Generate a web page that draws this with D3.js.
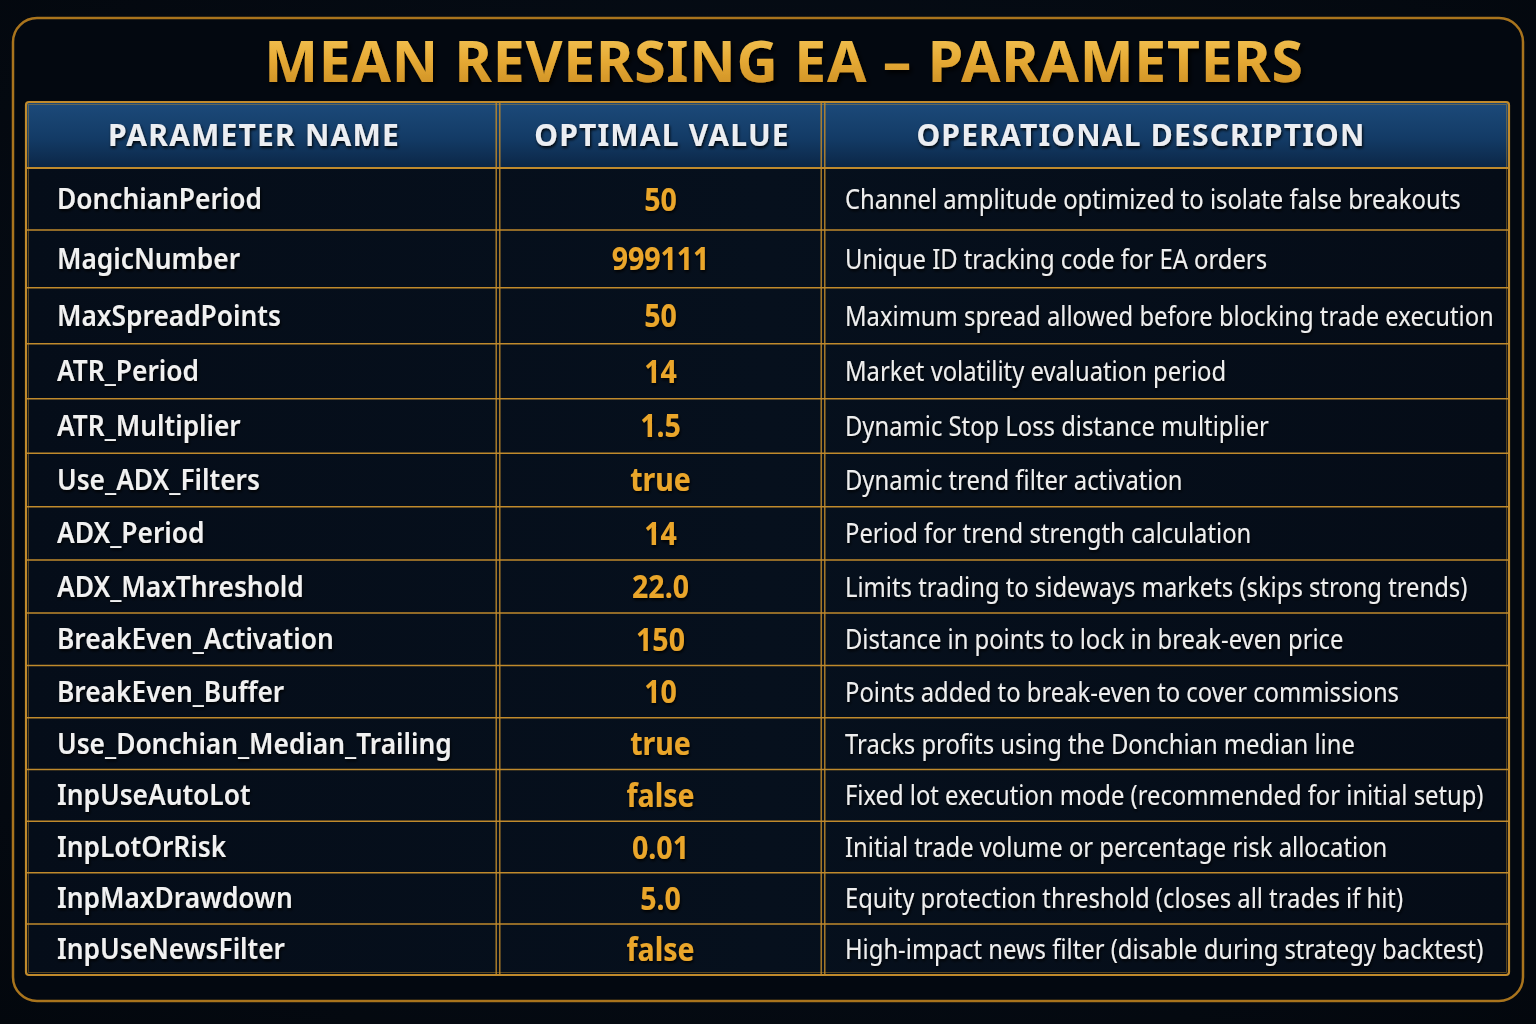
<!DOCTYPE html>
<html><head><meta charset="utf-8">
<script src="https://cdn.jsdelivr.net/npm/d3@7"></script>
<style>html,body{margin:0;padding:0;background:#040911;} svg{display:block}</style>
</head><body><div id="chart"></div>
<script>
// ---- data ----
const title = "MEAN REVERSING EA – PARAMETERS";
const columns = ["PARAMETER NAME", "OPTIMAL VALUE", "OPERATIONAL DESCRIPTION"];
const paramNames = [
  "DonchianPeriod", "MagicNumber", "MaxSpreadPoints", "ATR_Period", "ATR_Multiplier",
  "Use_ADX_Filters", "ADX_Period", "ADX_MaxThreshold", "BreakEven_Activation", "BreakEven_Buffer",
  "Use_Donchian_Median_Trailing", "InpUseAutoLot", "InpLotOrRisk", "InpMaxDrawdown", "InpUseNewsFilter"
];
const optimalValues = [
  "50", "999111", "50", "14", "1.5",
  "true", "14", "22.0", "150", "10",
  "true", "false", "0.01", "5.0", "false"
];
const descriptions = [
  "Channel amplitude optimized to isolate false breakouts",
  "Unique ID tracking code for EA orders",
  "Maximum spread allowed before blocking trade execution",
  "Market volatility evaluation period",
  "Dynamic Stop Loss distance multiplier",
  "Dynamic trend filter activation",
  "Period for trend strength calculation",
  "Limits trading to sideways markets (skips strong trends)",
  "Distance in points to lock in break-even price",
  "Points added to break-even to cover commissions",
  "Tracks profits using the Donchian median line",
  "Fixed lot execution mode (recommended for initial setup)",
  "Initial trade volume or percentage risk allocation",
  "Equity protection threshold (closes all trades if hit)",
  "High-impact news filter (disable during strategy backtest)"
];

const rows = paramNames.map((name, i) => ({name, value: optimalValues[i], desc: descriptions[i]}));

// ---- layout ----
const W = 1536, H = 1024;
const FONT = "'Noto Sans', 'Open Sans', sans-serif";
const gold = "#c08a2c";
const tableLeft = 26, tableRight = 1509, tableTop = 102, headTop = 168, tableBottom = 975;
const colEdges = [tableLeft, 498, 823, tableRight];
const headCenters = [254, 662, 1141];

// rows get a touch shorter further down the table
const y = d3.scalePow().exponent(0.947).domain([0, rows.length]).range([headTop, tableBottom]);

const svg = d3.select("#chart").append("svg")
  .attr("width", W).attr("height", H)
  .attr("viewBox", [0, 0, W, H]);

const defs = svg.append("defs");

const bg = defs.append("radialGradient").attr("id", "bg").attr("cx", "50%").attr("cy", "45%").attr("r", "75%");
bg.append("stop").attr("offset", "0%").attr("stop-color", "#08111d");
bg.append("stop").attr("offset", "100%").attr("stop-color", "#03070d");

const titleGrad = defs.append("linearGradient").attr("id", "titleGrad").attr("x1", 0).attr("x2", 0).attr("y1", 0).attr("y2", 1);
titleGrad.append("stop").attr("offset", "0%").attr("stop-color", "#f9cf62");
titleGrad.append("stop").attr("offset", "50%").attr("stop-color", "#e6aa35");
titleGrad.append("stop").attr("offset", "100%").attr("stop-color", "#c4861e");

const headGrad = defs.append("linearGradient").attr("id", "headGrad").attr("x1", 0).attr("x2", 0).attr("y1", 0).attr("y2", 1);
headGrad.append("stop").attr("offset", "0%").attr("stop-color", "#1c4a7a");
headGrad.append("stop").attr("offset", "55%").attr("stop-color", "#133b66");
headGrad.append("stop").attr("offset", "100%").attr("stop-color", "#0b2646");

const rowGrad = defs.append("linearGradient").attr("id", "rowGrad").attr("x1", 0).attr("x2", 1).attr("y1", 0).attr("y2", 0);
rowGrad.append("stop").attr("offset", "0%").attr("stop-color", "#050d19");
rowGrad.append("stop").attr("offset", "50%").attr("stop-color", "#06101d");
rowGrad.append("stop").attr("offset", "100%").attr("stop-color", "#050c17");

const shadow = defs.append("filter").attr("id", "shadow").attr("x", "-10%").attr("y", "-30%").attr("width", "120%").attr("height", "160%");
shadow.append("feDropShadow").attr("dx", 1).attr("dy", 2).attr("stdDeviation", 1.6)
  .attr("flood-color", "#000").attr("flood-opacity", 0.9);

const glow = defs.append("filter").attr("id", "glow").attr("x", "-5%").attr("y", "-30%").attr("width", "110%").attr("height", "160%");
glow.append("feDropShadow").attr("dx", 2).attr("dy", 3).attr("stdDeviation", 2.5)
  .attr("flood-color", "#000").attr("flood-opacity", 1);

// background + outer panel
svg.append("rect").attr("width", W).attr("height", H).attr("fill", "url(#bg)");
svg.append("rect")
  .attr("x", 13).attr("y", 18).attr("width", 1510).attr("height", 983).attr("rx", 24)
  .attr("fill", "#030810").attr("stroke", "#a9741d").attr("stroke-width", 2.5);

// title
svg.append("text")
  .attr("x", 784).attr("y", 82)
  .attr("text-anchor", "middle")
  .attr("fill", "url(#titleGrad)")
  .attr("filter", "url(#glow)")
  .style("font-family", FONT).style("font-weight", 700).style("font-size", "57px")
  .style("letter-spacing", "0.8px")
  .text(title);

// header band
svg.append("rect")
  .attr("x", tableLeft).attr("y", tableTop).attr("width", tableRight - tableLeft).attr("height", headTop - tableTop)
  .attr("fill", "url(#headGrad)");

// body rows
svg.append("g").selectAll("rect").data(rows).join("rect")
  .attr("x", tableLeft).attr("width", tableRight - tableLeft)
  .attr("y", (d, i) => y(i)).attr("height", (d, i) => y(i + 1) - y(i))
  .attr("fill", "url(#rowGrad)");

svg.append("g").selectAll("text").data(columns).join("text")
  .attr("x", (d, i) => headCenters[i]).attr("y", (tableTop + headTop) / 2 + 11)
  .attr("text-anchor", "middle")
  .attr("fill", "#eceef2")
  .attr("filter", "url(#shadow)")
  .style("font-family", FONT).style("font-weight", 700).style("font-size", "30px")
  .style("letter-spacing", "1.2px")
  .text(d => d);

// grid lines
const grid = svg.append("g").attr("stroke", gold).attr("fill", "none");
grid.selectAll("line.h").data(d3.range(1, rows.length)).join("line").attr("class", "h")
  .attr("x1", tableLeft).attr("x2", tableRight)
  .attr("y1", i => y(i)).attr("y2", i => y(i))
  .attr("stroke-width", 1.5);
grid.append("line")
  .attr("x1", tableLeft).attr("x2", tableRight).attr("y1", headTop).attr("y2", headTop)
  .attr("stroke-width", 2);
colEdges.slice(1, 3).forEach(cx => {
  [-1.8, 1.8].forEach(off => grid.append("line")
    .attr("x1", cx + off).attr("x2", cx + off).attr("y1", tableTop).attr("y2", tableBottom)
    .attr("stroke-width", 1.3));
});
grid.append("rect")
  .attr("x", tableLeft).attr("y", tableTop).attr("width", tableRight - tableLeft).attr("height", tableBottom - tableTop)
  .attr("rx", 3).attr("stroke-width", 2.2);
grid.append("rect")
  .attr("x", tableLeft + 2.5).attr("y", tableTop + 2.5).attr("width", tableRight - tableLeft - 5).attr("height", tableBottom - tableTop - 5)
  .attr("stroke-width", 0.8).attr("stroke-opacity", 0.55);

// cell text
const mid = i => (y(i) + y(i + 1)) / 2;
const cells = svg.append("g").style("font-family", FONT);

cells.selectAll("text.name").data(rows).join("text").attr("class", "name")
  .attr("transform", (d, i) => `translate(57,${mid(i) + 10}) scale(0.94,1)`)
  .attr("fill", "#f1f1f1").attr("filter", "url(#shadow)")
  .style("font-weight", 600).style("font-size", "28px")
  .text(d => d.name);

cells.selectAll("text.value").data(rows).join("text").attr("class", "value")
  .attr("transform", (d, i) => `translate(${(colEdges[1] + colEdges[2]) / 2},${mid(i) + 11.5}) scale(0.89,1)`)
  .attr("text-anchor", "middle")
  .attr("fill", "#eaa62c").attr("filter", "url(#shadow)")
  .style("font-weight", 700).style("font-size", "32px")
  .text(d => d.value);

cells.selectAll("text.desc").data(rows).join("text").attr("class", "desc")
  .attr("transform", (d, i) => `translate(845,${mid(i) + 10}) scale(0.85,1)`)
  .attr("fill", "#eeeeee").attr("filter", "url(#shadow)")
  .style("font-weight", 400).style("font-size", "28px")
  .text(d => d.desc);
</script></body></html>
